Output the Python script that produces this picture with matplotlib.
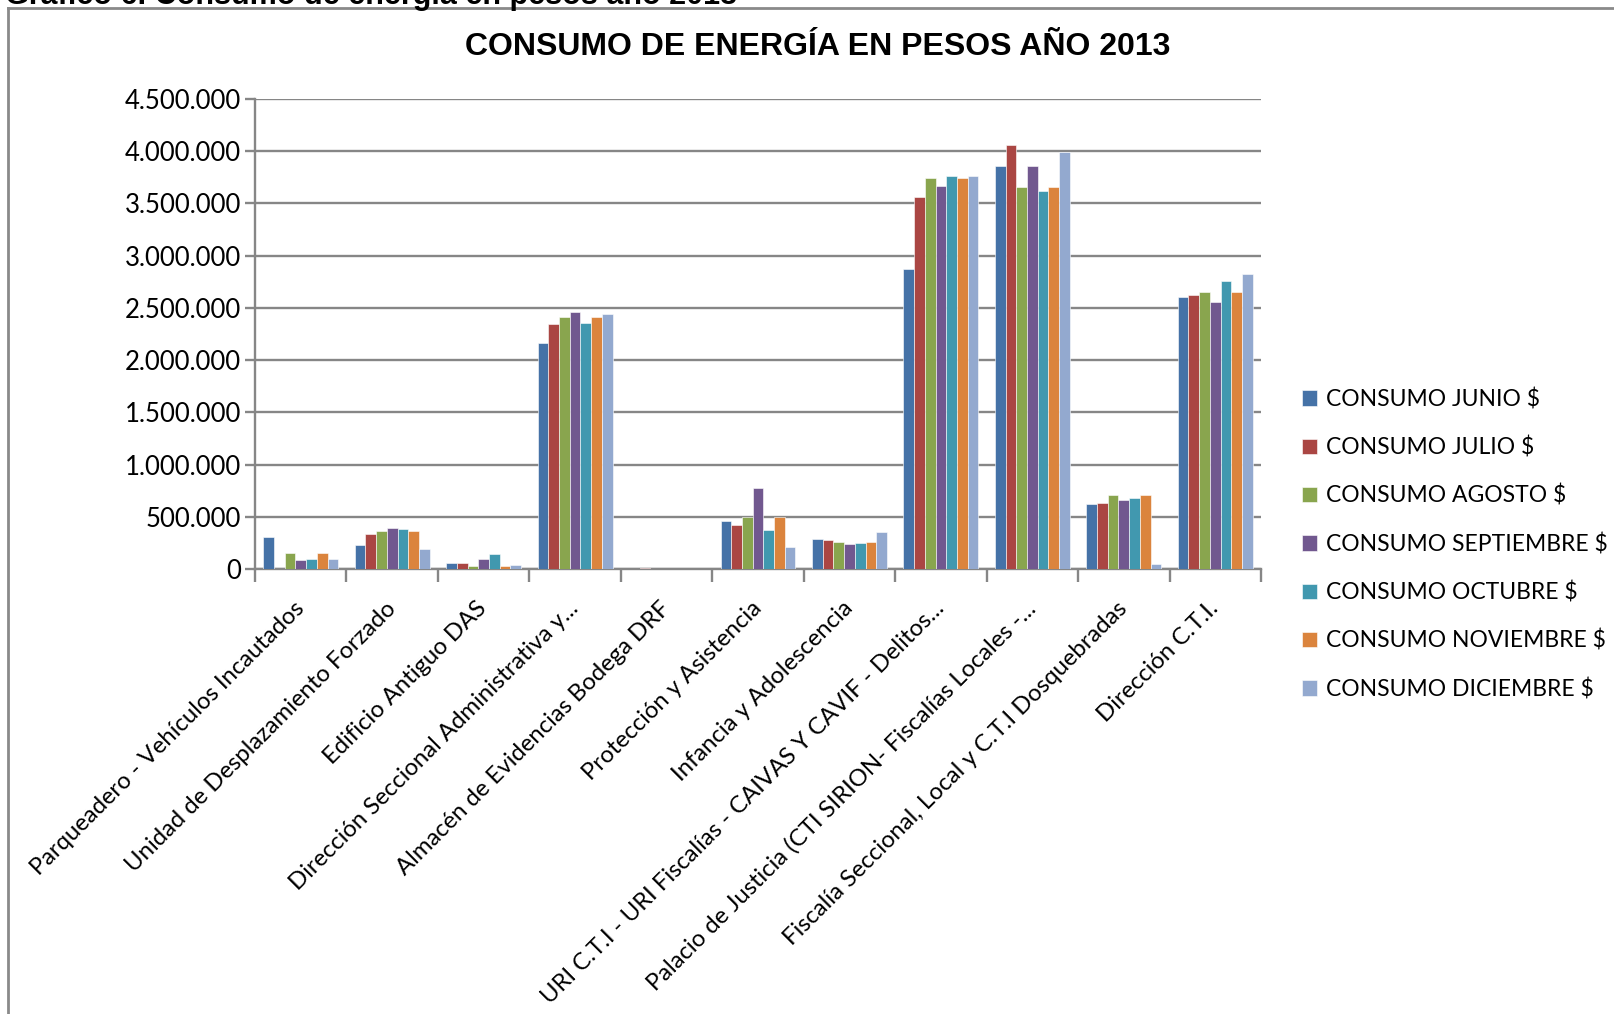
import numpy as np
import matplotlib
matplotlib.use('Agg')
import matplotlib.pyplot as plt
from matplotlib.lines import Line2D
from matplotlib.ticker import FuncFormatter

plt.rcParams['font.family'] = ['Lato', 'DejaVu Sans']

sedes = ['Parqueadero - Vehículos Incautados',
         'Unidad de Desplazamiento Forzado',
         'Edificio Antiguo DAS',
         'Dirección Seccional Administrativa y...',
         'Almacén de Evidencias Bodega DRF',
         'Protección y Asistencia',
         'Infancia y Adolescencia',
         'URI C.T.I - URI Fiscalías - CAIVAS Y CAVIF - Delitos...',
         'Palacio de Justicia (CTI SIRION- Fiscalías Locales -...',
         'Fiscalía Seccional, Local y C.T.I Dosquebradas',
         'Dirección C.T.I.']

meses = ['CONSUMO JUNIO $', 'CONSUMO JULIO $', 'CONSUMO AGOSTO $',
         'CONSUMO SEPTIEMBRE $', 'CONSUMO OCTUBRE $', 'CONSUMO NOVIEMBRE $',
         'CONSUMO DICIEMBRE $']

junio = [307000, 232000, 61000, 2162000, 3000, 458000, 291000, 2875000, 3859000, 623000, 2608000]
julio = [0, 336000, 61000, 2347000, 14000, 426000, 274000, 3558000, 4058000, 633000, 2624000]
agosto = [152000, 365000, 32000, 2408000, 1000, 494000, 258000, 3740000, 3660000, 707000, 2650000]
septiembre = [87000, 390000, 100000, 2459000, 1000, 772000, 236000, 3663000, 3856000, 659000, 2560000]
octubre = [97000, 381000, 139000, 2353000, 1000, 371000, 245000, 3760000, 3619000, 678000, 2758000]
noviembre = [152000, 365000, 32000, 2408000, 1000, 494000, 258000, 3747000, 3660000, 704000, 2650000]
diciembre = [100000, 190000, 36000, 2440000, 1000, 207000, 355000, 3760000, 3994000, 52000, 2828000]

series = [junio, julio, agosto, septiembre, octubre, noviembre, diciembre]
colores = ['#4572A7', '#AA4643', '#89A54E', '#71588F', '#4198AF', '#DB843D', '#93A9CF']

fig = plt.figure(figsize=(16.14, 10.14), dpi=100)
ax = fig.add_axes([255/1614, 1-569/1014, (1261-255)/1614, (569-99)/1014])

x = np.arange(len(sedes))
ancho = 0.82 / len(series)
for i, (vals, c, m) in enumerate(zip(series, colores, meses)):
    ax.bar(x - 0.41 + ancho*(i+0.5), vals, width=ancho, color=c, label=m,
           edgecolor='white', linewidth=0.4, zorder=3)

gris = '#868686'
ax.set_ylim(0, 4500000)
ax.set_xlim(-0.5, len(sedes)-0.5)
ax.set_yticks(np.arange(0, 4500001, 500000))
ax.yaxis.set_major_formatter(FuncFormatter(lambda v, p: f'{int(v):,}'.replace(',', '.')))
ax.grid(axis='y', color=gris, linewidth=1.7, zorder=0)
for s in ['top', 'right']:
    ax.spines[s].set_visible(False)
for s in ['left', 'bottom']:
    ax.spines[s].set_color(gris)
    ax.spines[s].set_linewidth(1.7)
ax.tick_params(axis='y', colors=gris, length=7, width=1.7, labelsize=18.5, labelcolor='black', pad=3)

ax.set_xticks(x)
ax.set_xticks(np.arange(-0.5, len(sedes)), minor=True)
ax.tick_params(axis='x', which='major', length=0, pad=26)
ax.tick_params(axis='x', which='minor', length=9, width=1.7, color=gris)
ax.set_xticklabels(sedes, rotation=45, ha='right', va='center', rotation_mode='anchor', fontsize=17.2)

ax.legend(loc='center left', bbox_to_anchor=(1.02, 0.053), frameon=False, fontsize=16.5,
          handlelength=0.65, handleheight=0.65, handletextpad=0.4, labelspacing=1.15)

fig.text(818/1614, 1-47/1014, 'CONSUMO DE ENERGÍA EN PESOS AÑO 2013', ha='center', va='center',
         fontsize=23, fontweight='bold', family='Liberation Sans')
fig.text(5/1614, 1-4/1014, 'Gráfico 6. Consumo de energía en pesos año 2013', ha='left', va='baseline',
         fontsize=22, fontweight='bold', family='Liberation Sans')

# marco del gráfico
fig.add_artist(Line2D([8/1614, 8/1614], [0, 1-8/1014], color='#8a8a8a', linewidth=2, transform=fig.transFigure))
fig.add_artist(Line2D([8/1614, 1], [1-8/1014, 1-8/1014], color='#8a8a8a', linewidth=2, transform=fig.transFigure))

fig.savefig('out.png', dpi=100, facecolor='white')
